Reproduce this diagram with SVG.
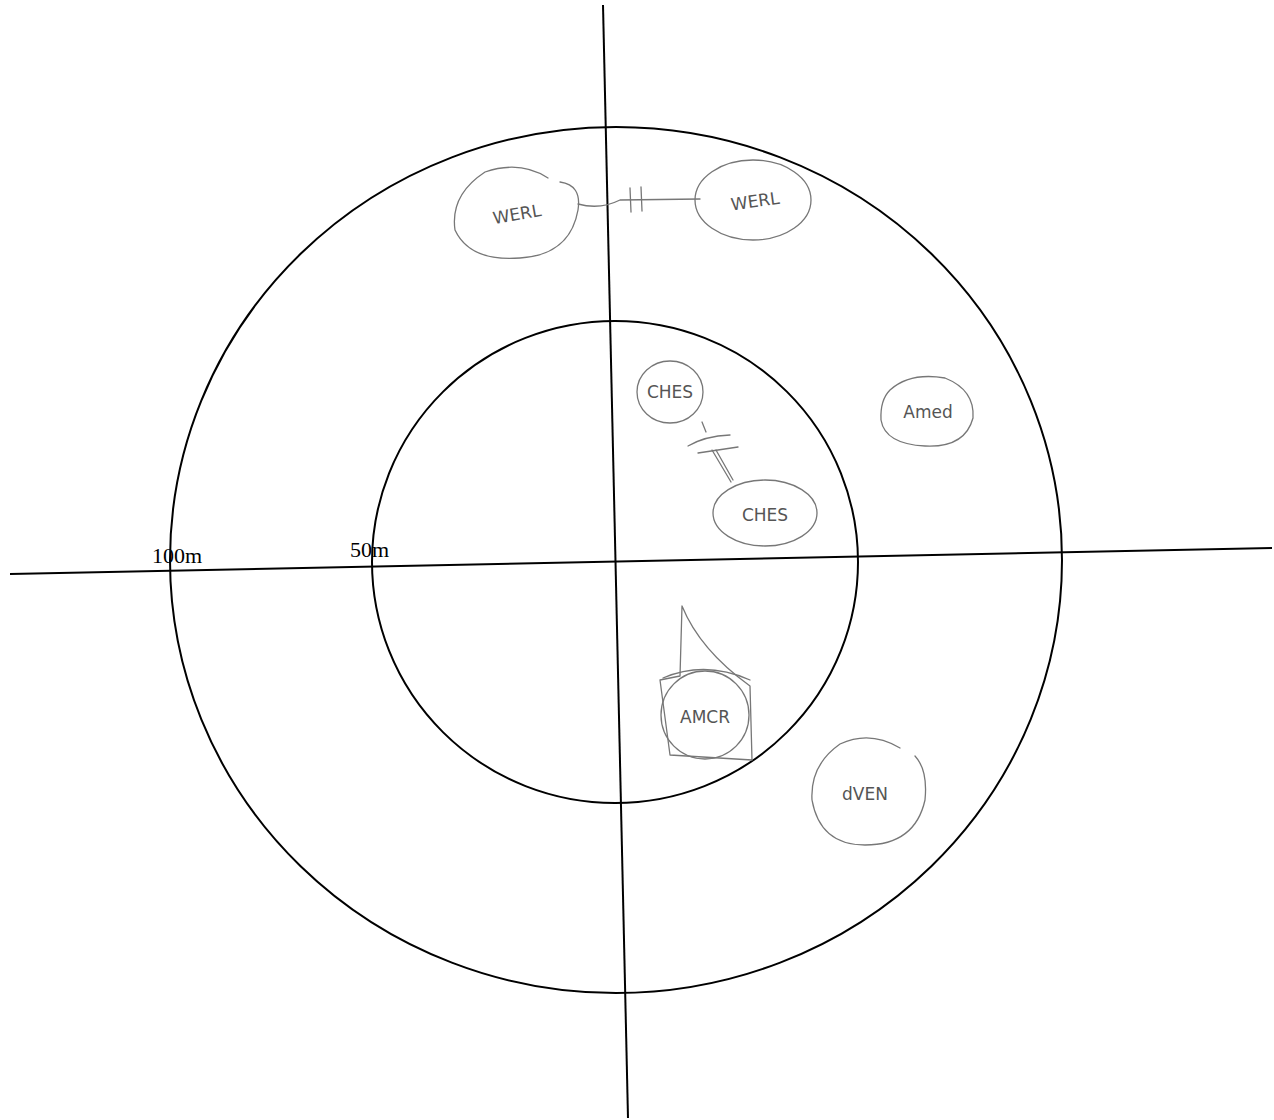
<svg xmlns="http://www.w3.org/2000/svg" width="1274" height="1120" viewBox="0 0 1274 1120">
<style>
.axis{stroke:#000;stroke-width:2;fill:none}
.ring{stroke:#000;stroke-width:2;fill:none}
.sk{stroke:#777;stroke-width:1.3;fill:none;stroke-linecap:round;stroke-linejoin:round}
.hand{font-family:"DejaVu Sans",sans-serif;font-size:17px;fill:#555;text-anchor:middle}
.scale{font-family:"Liberation Serif",serif;font-size:22px;fill:#000}
</style>
<rect width="1274" height="1120" fill="#fff"/>
<g id="connectors">
<line class="axis" x1="603" y1="5" x2="628" y2="1118"/>
<line class="axis" x1="10" y1="574" x2="1272" y2="548"/>
<path class="sk" d="M578 204 Q600 210 620 200 L700 199"/>
<line class="sk" x1="630" y1="188" x2="631" y2="212"/>
<line class="sk" x1="641" y1="187" x2="642" y2="211"/>
<line class="sk" x1="702" y1="422" x2="706" y2="432"/>
<path class="sk" d="M688 446 Q705 436 730 435"/>
<path class="sk" d="M698 453 L738 447"/>
<line class="sk" x1="712" y1="450" x2="731" y2="482"/>
<line class="sk" x1="716" y1="450" x2="733" y2="480"/>
</g>
<g id="outer-ring"><ellipse class="ring" cx="616" cy="560" rx="446" ry="433"/></g>
<g id="inner-ring"><ellipse class="ring" cx="615" cy="562" rx="243" ry="241"/></g>
<g id="scale-labels">
<text class="scale" x="152" y="563">100m</text>
<text class="scale" x="350" y="557">50m</text>
</g>
<g id="node-werl-left">
<path class="sk" d="M548 178 Q520 160 485 172 Q450 195 455 230 Q470 262 520 258 Q570 255 578 210 Q582 185 560 182"/>
<text class="hand" x="518" y="220" transform="rotate(-10 518 220)">WERL</text>
</g>
<g id="node-werl-right">
<ellipse class="sk" cx="753" cy="200" rx="58" ry="40"/>
<text class="hand" x="756" y="207" transform="rotate(-8 756 207)">WERL</text>
</g>
<g id="node-ches-top">
<ellipse class="sk" cx="670" cy="392" rx="33" ry="31"/>
<text class="hand" x="670" y="398" font-size="15">CHES</text>
</g>
<g id="node-ches-bottom">
<ellipse class="sk" cx="765" cy="513" rx="52" ry="33"/>
<text class="hand" x="765" y="521">CHES</text>
</g>
<g id="node-amed">
<path class="sk" d="M890 390 Q910 372 945 378 Q975 390 973 418 Q965 448 925 446 Q885 444 881 420 Q880 400 890 390"/>
<text class="hand" x="928" y="418">Amed</text>
</g>
<g id="node-amcr">
<path class="sk" d="M682 606 Q700 650 750 686 L752 760 L670 755 L660 680 L680 676 Z"/>
<ellipse class="sk" cx="705" cy="715" rx="44" ry="44"/>
<path class="sk" d="M663 678 Q705 660 750 680"/>
<text class="hand" x="705" y="723">AMCR</text>
</g>
<g id="node-dven">
<path class="sk" d="M900 748 Q870 730 840 744 Q810 765 812 800 Q820 845 865 845 Q915 845 925 800 Q928 770 915 756"/>
<text class="hand" x="865" y="800" font-size="19">dVEN</text>
</g>
</svg>
